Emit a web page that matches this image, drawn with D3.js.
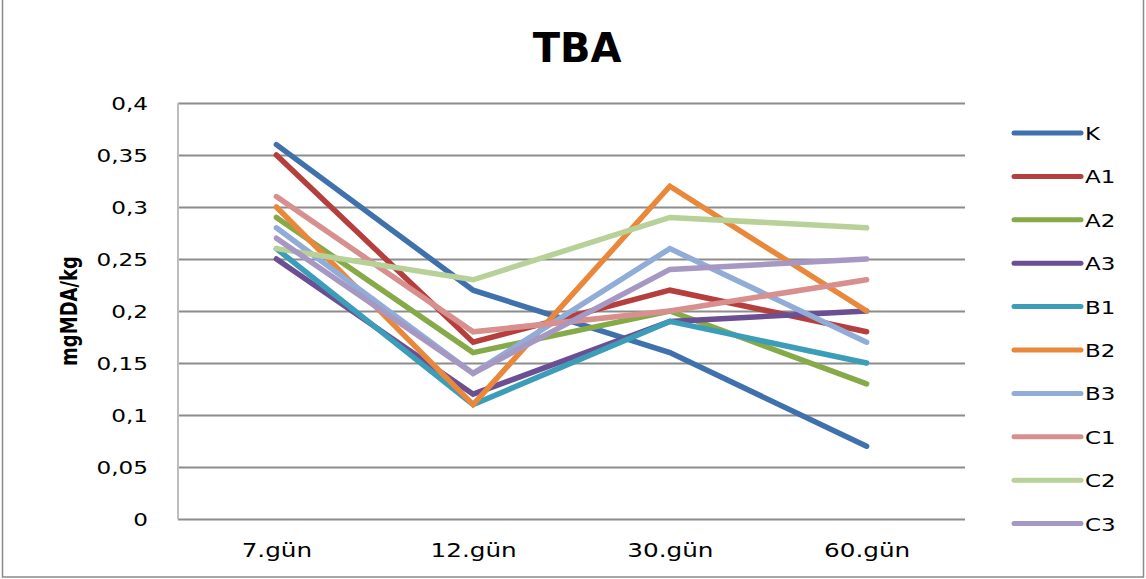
<!DOCTYPE html>
<html><head><meta charset="utf-8">
<script src="https://cdn.jsdelivr.net/npm/d3@7"></script>
<style>body{margin:0;background:#fff}svg{display:block}</style>
</head><body>
<svg id="c" width="1146" height="579"></svg>
<script>
const categories = ["7.gün", "12.gün", "30.gün", "60.gün"];
const seriesNames = ["K", "A1", "A2", "A3", "B1", "B2", "B3", "C1", "C2", "C3"];
const K  = [0.36, 0.22, 0.16, 0.07];
const A1 = [0.35, 0.17, 0.22, 0.18];
const A2 = [0.29, 0.16, 0.20, 0.13];
const A3 = [0.25, 0.12, 0.19, 0.20];
const B1 = [0.26, 0.11, 0.19, 0.15];
const B2 = [0.30, 0.11, 0.32, 0.20];
const B3 = [0.28, 0.14, 0.26, 0.17];
const C1 = [0.31, 0.18, 0.20, 0.23];
const C2 = [0.26, 0.23, 0.29, 0.28];
const C3 = [0.27, 0.14, 0.24, 0.25];
const yTicks = [0, 0.05, 0.1, 0.15, 0.2, 0.25, 0.3, 0.35, 0.4];
const colors = ["#3f71ad", "#b53f3d", "#86aa48", "#6c4f93", "#3b9db8", "#e9873a", "#91acd6", "#d7908e", "#b7d198", "#a698c3"];
const values = [K, A1, A2, A3, B1, B2, B3, C1, C2, C3];

const svg = d3.select("#c");
const L = 178, R = 965, T = 103, B = 519;
const x = d3.scalePoint().domain(categories).range([L, R]).padding(0.5);
const y = d3.scaleLinear().domain([0, 0.4]).range([B, T]);
const font = "DejaVu Sans, Verdana, sans-serif";

// outer frame
svg.append("rect").attr("x", 2.5).attr("y", -2).attr("width", 1141).attr("height", 579)
  .attr("fill", "none").attr("stroke", "#8a8a8a").attr("stroke-width", 1.5);

// title
svg.append("text").attr("x", 577).attr("y", 62).attr("text-anchor", "middle")
  .attr("font-family", font).attr("font-weight", "bold").attr("font-size", 40)
  .attr("fill", "#000").text("TBA");

// gridlines
const grid = svg.append("g").attr("transform", `translate(${L},0)`)
  .call(d3.axisLeft(y).tickValues(yTicks).tickSize(-(R - L)).tickFormat(""));
grid.select(".domain").remove();
grid.selectAll("line").attr("stroke", "#8c8c8c").attr("stroke-width", 2);

// left axis line
svg.append("line").attr("x1", L).attr("x2", L).attr("y1", T).attr("y2", B)
  .attr("stroke", "#bdbdbd").attr("stroke-width", 2);

// y axis labels
const sxY = 1.25;
const yAxis = svg.append("g").attr("transform", `translate(${L},0)`)
  .call(d3.axisLeft(y).tickValues(yTicks).tickSize(0)
    .tickFormat(d => String(+d.toFixed(2)).replace(".", ",")));
yAxis.select(".domain").remove();
yAxis.selectAll("text")
  .attr("font-family", font).attr("font-size", 18.5).attr("fill", "#000")
  .attr("x", -30 / sxY).attr("dy", "0.36em")
  .attr("transform", `scale(${sxY},1)`);

// x axis labels
const sxX = 1.3;
const xAxis = svg.append("g").attr("transform", `translate(0,${B})`)
  .call(d3.axisBottom(x).tickSize(0));
xAxis.select(".domain").remove();
xAxis.selectAll(".tick").each(function () {
  d3.select(this).select("text")
    .attr("font-family", font).attr("font-size", 19).attr("fill", "#000")
    .attr("y", 38).attr("dy", 0)
    .attr("transform", `scale(${sxX},1)`);
});

// y axis title
svg.append("text").attr("transform", "translate(77,311) rotate(-90) scale(1,1.3)")
  .attr("text-anchor", "middle").attr("font-family", font).attr("font-weight", "bold")
  .attr("font-size", 18).attr("fill", "#000").text("mgMDA/kg");

// lines
const line = d3.line().x((d, i) => x(categories[i])).y(d => y(d));
svg.append("g").selectAll("path").data(values).join("path")
  .attr("d", d => line(d)).attr("fill", "none")
  .attr("stroke", (d, i) => colors[i]).attr("stroke-width", 5.5)
  .attr("stroke-linecap", "round").attr("stroke-linejoin", "miter");

// legend
const lg = svg.append("g");
const sxL = 1.35;
seriesNames.forEach((n, i) => {
  const yy = 133 + i * 43.4;
  lg.append("line").attr("x1", 1014).attr("x2", 1081).attr("y1", yy).attr("y2", yy)
    .attr("stroke", colors[i]).attr("stroke-width", 5).attr("stroke-linecap", "round");
  lg.append("text").attr("transform", `translate(1085,${yy + 7}) scale(${sxL},1)`)
    .attr("font-family", font).attr("font-size", 17).attr("fill", "#000").text(n);
});
</script>
</body></html>
